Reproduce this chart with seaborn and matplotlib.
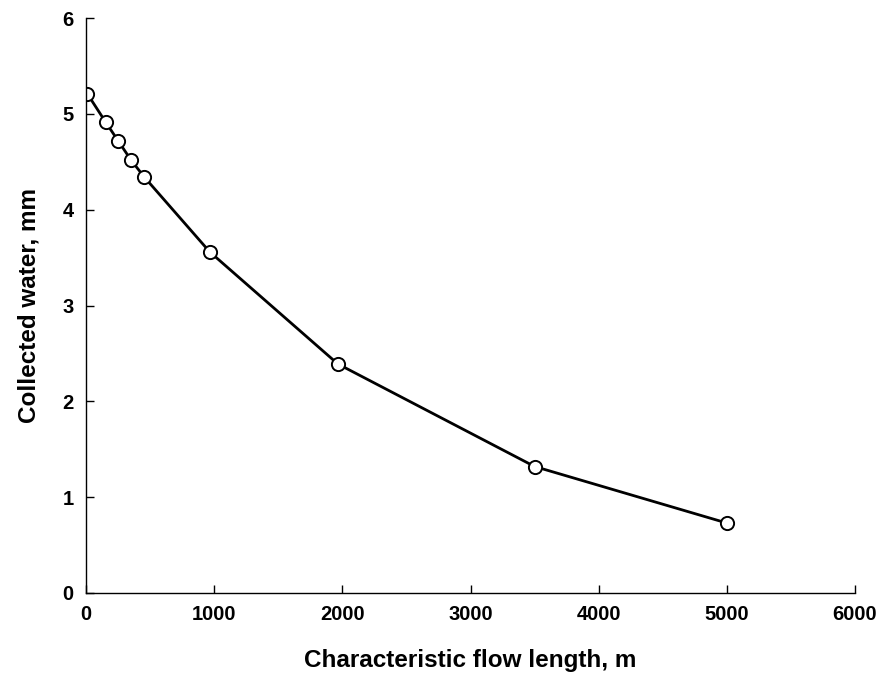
import matplotlib
matplotlib.use("Agg")
import matplotlib.pyplot as plt
import seaborn as sns
import pandas as pd

flow_length = [10, 155, 250, 350, 455, 965, 1965, 3500, 5000]
collected_water = [5.21, 4.91, 4.72, 4.52, 4.34, 3.56, 2.39, 1.32, 0.73]
x_ticks = [0, 1000, 2000, 3000, 4000, 5000, 6000]
y_ticks = [0, 1, 2, 3, 4, 5, 6]

sns.set_style("ticks")
plt.rcParams['font.family'] = ['Liberation Sans', 'DejaVu Sans']
plt.rcParams.update({
    "xtick.direction": "in", "ytick.direction": "in",
    "text.color": "black", "axes.labelcolor": "black",
    "xtick.color": "black", "ytick.color": "black",
    "axes.edgecolor": "black",
})

df = pd.DataFrame({"x": flow_length, "y": collected_water})

fig = plt.figure(figsize=(8.85, 6.89), dpi=100)
ax = fig.add_axes([86/885, 96/689, (855-86)/885, (593-18)/689])

sns.lineplot(data=df, x="x", y="y", ax=ax, color="black", linewidth=2.0,
             marker="o", markersize=9.5, markerfacecolor="white",
             markeredgecolor="black", markeredgewidth=1.4)

ax.set_xlim(0, 6000)
ax.set_ylim(0, 6)
ax.set_xticks(x_ticks)
ax.set_yticks(y_ticks)
ax.tick_params(axis="both", direction="in", length=6, width=1, labelsize=14.5,
               colors="black", pad=9)
for lab in ax.get_xticklabels() + ax.get_yticklabels():
    lab.set_fontweight("bold")
for side in ["top", "right"]:
    ax.spines[side].set_visible(False)
for side in ["left", "bottom"]:
    ax.spines[side].set_linewidth(1)
    ax.spines[side].set_color("black")

ax.set_xlabel("Characteristic flow length, m", fontsize=17.5, fontweight="bold", labelpad=18)
ax.set_ylabel("Collected water, mm", fontsize=17.5, fontweight="bold", labelpad=16)

fig.savefig("out.png", dpi=100)
